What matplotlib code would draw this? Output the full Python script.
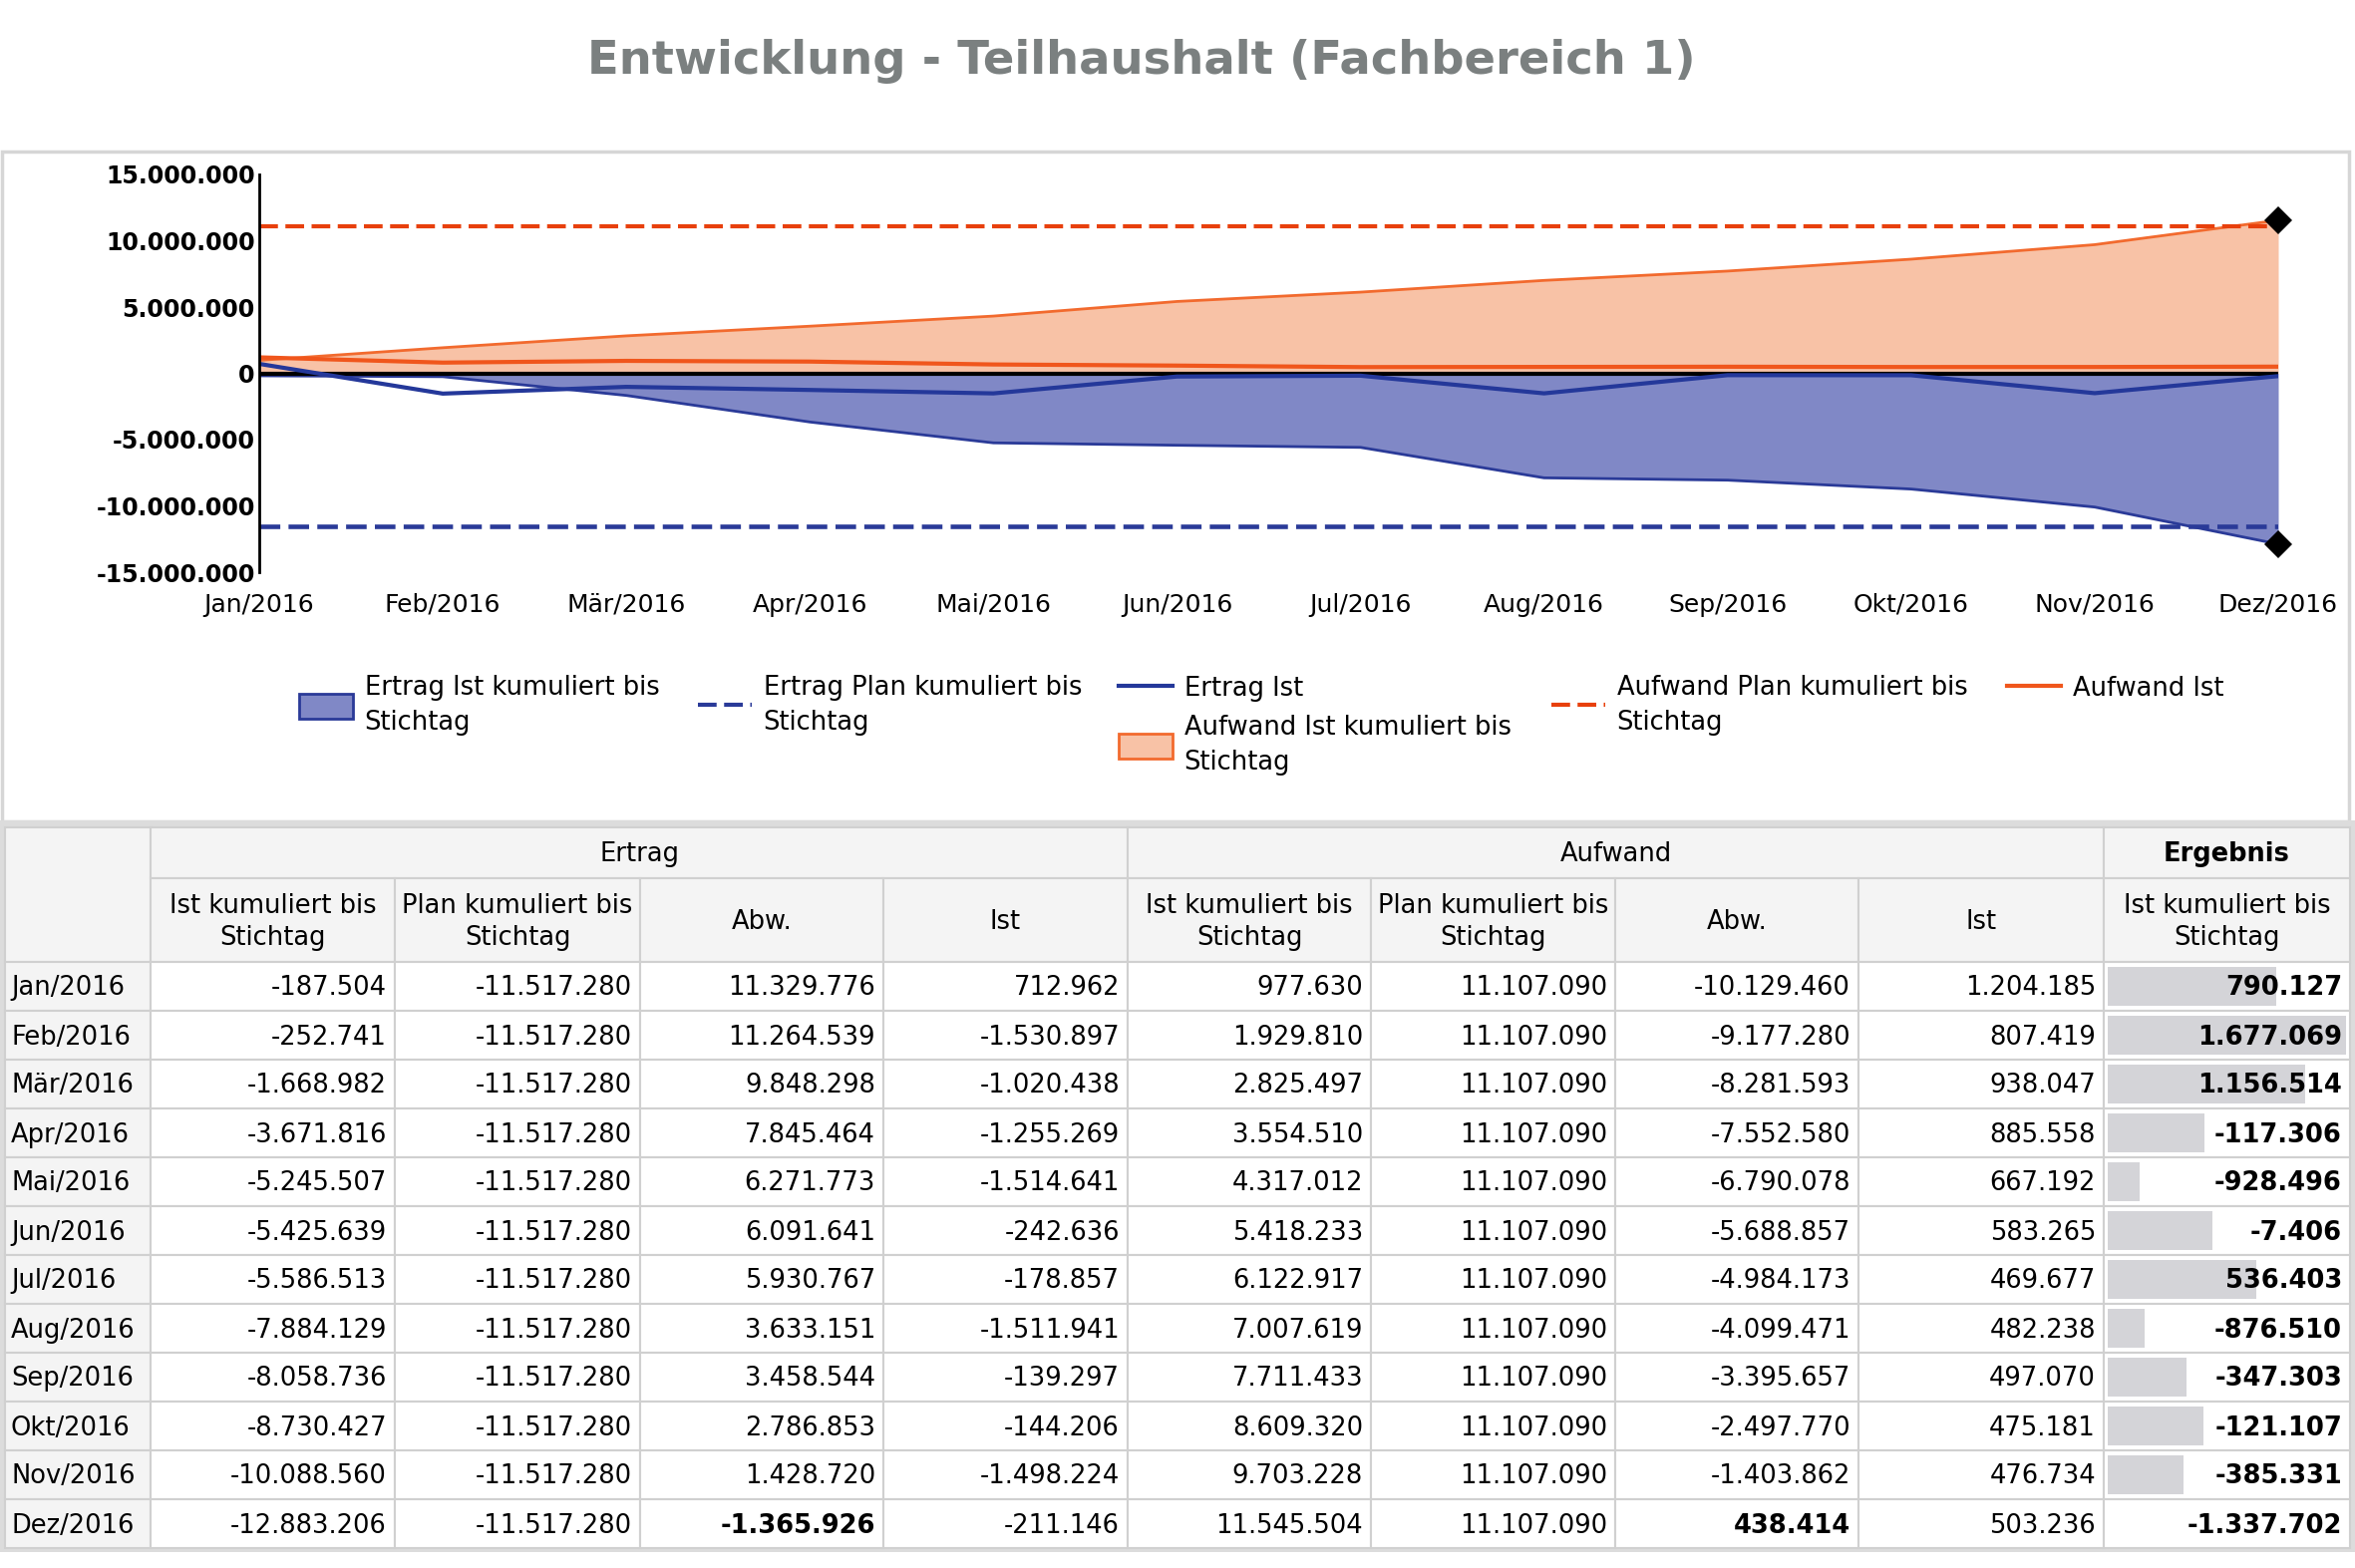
import matplotlib.pyplot as plt
import matplotlib.patches as mpatches
from matplotlib.lines import Line2D
from matplotlib.ticker import FuncFormatter
import numpy as np

# Monate / Zeilen
months = ["Jan/2016", "Feb/2016", "Mär/2016", "Apr/2016", "Mai/2016", "Jun/2016",
          "Jul/2016", "Aug/2016", "Sep/2016", "Okt/2016", "Nov/2016", "Dez/2016"]

# Ertrag
ertrag_ist_kum = [-187504, -252741, -1668982, -3671816, -5245507, -5425639,
                  -5586513, -7884129, -8058736, -8730427, -10088560, -12883206]
ertrag_plan_kum = [-11517280, -11517280, -11517280, -11517280, -11517280, -11517280,
                   -11517280, -11517280, -11517280, -11517280, -11517280, -11517280]
ertrag_abw = [11329776, 11264539, 9848298, 7845464, 6271773, 6091641,
              5930767, 3633151, 3458544, 2786853, 1428720, -1365926]
ertrag_ist = [712962, -1530897, -1020438, -1255269, -1514641, -242636,
              -178857, -1511941, -139297, -144206, -1498224, -211146]

# Aufwand
aufwand_ist_kum = [977630, 1929810, 2825497, 3554510, 4317012, 5418233,
                   6122917, 7007619, 7711433, 8609320, 9703228, 11545504]
aufwand_plan_kum = [11107090, 11107090, 11107090, 11107090, 11107090, 11107090,
                    11107090, 11107090, 11107090, 11107090, 11107090, 11107090]
aufwand_abw = [-10129460, -9177280, -8281593, -7552580, -6790078, -5688857,
               -4984173, -4099471, -3395657, -2497770, -1403862, 438414]
aufwand_ist = [1204185, 807419, 938047, 885558, 667192, 583265,
               469677, 482238, 497070, 475181, 476734, 503236]

# Ergebnis
ergebnis = [790127, 1677069, 1156514, -117306, -928496, -7406,
            536403, -876510, -347303, -121107, -385331, -1337702]

group_labels = ["Ertrag", "Aufwand", "Ergebnis"]
sub_labels = ["Ist kumuliert bis\nStichtag", "Plan kumuliert bis\nStichtag", "Abw.", "Ist",
              "Ist kumuliert bis\nStichtag", "Plan kumuliert bis\nStichtag", "Abw.", "Ist",
              "Ist kumuliert bis\nStichtag"]


def de(v):
    return f"{int(round(v)):,}".replace(",", ".")


# colours
BLUE_FILL = '#8088c6'
BLUE = '#2a3a98'
ORANGE_FILL = '#f8c2a6'
ORANGE = '#f0561c'
ORANGE_PLAN = '#e8400c'
DASH = (0, (4.5, 1.8))

W, H = 2362, 1573
fig = plt.figure(figsize=(W / 100, H / 100), dpi=100)
plt.rcParams['font.family'] = 'DejaVu Sans'

# background axes in pixel coords (panel + table)
bg = fig.add_axes([0, 0, 1, 1], zorder=-1)
bg.set_xlim(0, W)
bg.set_ylim(H, 0)
bg.axis('off')

fig.text(1145 / W, 1 - 61 / H, "Entwicklung - Teilhaushalt (Fachbereich 1)",
         ha='center', va='center', fontsize=33.5, fontweight='bold', color='#7b8080')

bg.add_patch(mpatches.Rectangle((2, 152), 2354, 672, facecolor='white',
                                edgecolor='#d6d6d6', lw=2.5))

# ---- chart ----
ax = fig.add_axes([260 / W, 1 - 574 / H, (2285 - 260) / W, (574 - 175) / H])
ax.set_facecolor('none')
x = np.arange(len(months))

ax.fill_between(x, 0, aufwand_ist_kum, color=ORANGE_FILL, lw=0)
ax.plot(x, aufwand_ist_kum, color='#f26a2e', lw=2)
ax.fill_between(x, 0, ertrag_ist_kum, color=BLUE_FILL, lw=0)
ax.plot(x, ertrag_ist_kum, color=BLUE, lw=2)
ax.axhline(0, color='black', lw=3)
ax.plot(x, aufwand_plan_kum, color=ORANGE_PLAN, lw=3, ls=DASH)
ax.plot(x, ertrag_plan_kum, color=BLUE, lw=3.3, ls=DASH)
ax.plot(x, ertrag_ist, color='#24389a', lw=3)
ax.plot(x, aufwand_ist, color=ORANGE, lw=3)
ax.plot(x[-1], aufwand_ist_kum[-1], 'D', color='black', ms=14, mew=0, clip_on=False, zorder=5)
ax.plot(x[-1], ertrag_ist_kum[-1], 'D', color='black', ms=14, mew=0, clip_on=False, zorder=5)

ax.set_xlim(x[0], x[-1])
ax.set_ylim(-15e6, 15e6)
ax.set_yticks(np.arange(-15e6, 15e6 + 1, 5e6))
ax.yaxis.set_major_formatter(FuncFormatter(lambda v, p: de(v)))
ax.set_xticks(x)
ax.set_xticklabels(months)
ax.tick_params(axis='y', length=0, pad=3, labelsize=17)
ax.tick_params(axis='x', length=0, pad=15, labelsize=18)
for lab in ax.get_yticklabels():
    lab.set_fontweight('bold')
for s in ['top', 'right', 'bottom']:
    ax.spines[s].set_visible(False)
ax.spines['left'].set_linewidth(2)

# ---- legend (one small legend per column) ----
h_ek = mpatches.Patch(facecolor=BLUE_FILL, edgecolor=BLUE, lw=2)
h_ep = Line2D([], [], color=BLUE, lw=3, ls=DASH)
h_ei = Line2D([], [], color='#24389a', lw=3)
h_ak = mpatches.Patch(facecolor=ORANGE_FILL, edgecolor='#f26a2e', lw=2)
h_ap = Line2D([], [], color=ORANGE_PLAN, lw=3, ls=DASH)
h_ai = Line2D([], [], color=ORANGE, lw=3)
legend_cols = [
    (300, [h_ek], ["Ertrag Ist kumuliert bis\nStichtag"]),
    (700, [h_ep], ["Ertrag Plan kumuliert bis\nStichtag"]),
    (1122, [h_ei, h_ak], ["Ertrag Ist", "Aufwand Ist kumuliert bis\nStichtag"]),
    (1556, [h_ap], ["Aufwand Plan kumuliert bis\nStichtag"]),
    (2013, [h_ai], ["Aufwand Ist"]),
]
for lx, hs, ls in legend_cols:
    leg = fig.legend(hs, ls, loc='upper left', bbox_to_anchor=(lx / W, 1 - 677 / H),
                     frameon=False, fontsize=18.5, handlelength=2.1, handleheight=1.1,
                     handletextpad=0.45, labelspacing=0.5, borderpad=0, borderaxespad=0)
    for t in leg.get_texts():
        t.set_linespacing(1.45)

# ---- table ----
col_x = [5, 151, 396, 642, 886, 1131, 1375, 1620, 1864, 2110, 2357]
top, h1, h2, row_h = 830, 881, 965, 49
GRID = '#d0d0d0'
HEAD_BG = '#f4f4f4'
fs = 18.5

bg.add_patch(mpatches.Rectangle((0, 823), W, 734, facecolor='#dcdcdc', lw=0))


def cell(x0, y0, x1, y1, fc):
    bg.add_patch(mpatches.Rectangle((x0, y0), x1 - x0, y1 - y0, facecolor=fc,
                                    edgecolor=GRID, lw=1.5))


cell(col_x[0], top, col_x[1], h2, HEAD_BG)
group_spans = [(1, 5), (5, 9), (9, 10)]
for (a, b), lab in zip(group_spans, group_labels):
    cell(col_x[a], top, col_x[b], h1, HEAD_BG)
    bg.text((col_x[a] + col_x[b]) / 2, (top + h1) / 2 + 2, lab, ha='center', va='center',
            fontsize=fs, fontweight='bold' if lab == "Ergebnis" else 'normal')
for i, lab in enumerate(sub_labels):
    cell(col_x[i + 1], h1, col_x[i + 2], h2, HEAD_BG)
    bg.text((col_x[i + 1] + col_x[i + 2]) / 2, (h1 + h2) / 2 + 2, lab, ha='center',
            va='center', fontsize=fs, linespacing=1.35)

table_cols = [ertrag_ist_kum, ertrag_plan_kum, ertrag_abw, ertrag_ist,
              aufwand_ist_kum, aufwand_plan_kum, aufwand_abw, aufwand_ist, ergebnis]
bold_cells = {(11, 2), (11, 6)}
emin, emax = min(ergebnis), max(ergebnis)

for r, m in enumerate(months):
    y0 = h2 + r * row_h
    y1 = y0 + row_h
    yc = (y0 + y1) / 2 + 2
    cell(col_x[0], y0, col_x[1], y1, HEAD_BG)
    bg.text(col_x[0] + 6, yc, m, ha='left', va='center', fontsize=fs)
    for c, vals in enumerate(table_cols):
        x0, x1 = col_x[c + 1], col_x[c + 2]
        cell(x0, y0, x1, y1, 'white')
        last = c == len(table_cols) - 1
        if last:
            frac = (vals[r] - emin) / (emax - emin)
            bw = frac * (x1 - x0 - 8)
            if bw > 0:
                bg.add_patch(mpatches.Rectangle((x0 + 4, y0 + 5), bw, row_h - 10,
                                                facecolor='#d4d4d8', lw=0))
        bold = last or (r, c) in bold_cells
        bg.text(x1 - 8, yc, de(vals[r]), ha='right', va='center', fontsize=fs,
                fontweight='bold' if bold else 'normal')

fig.savefig('out.png', dpi=100)
